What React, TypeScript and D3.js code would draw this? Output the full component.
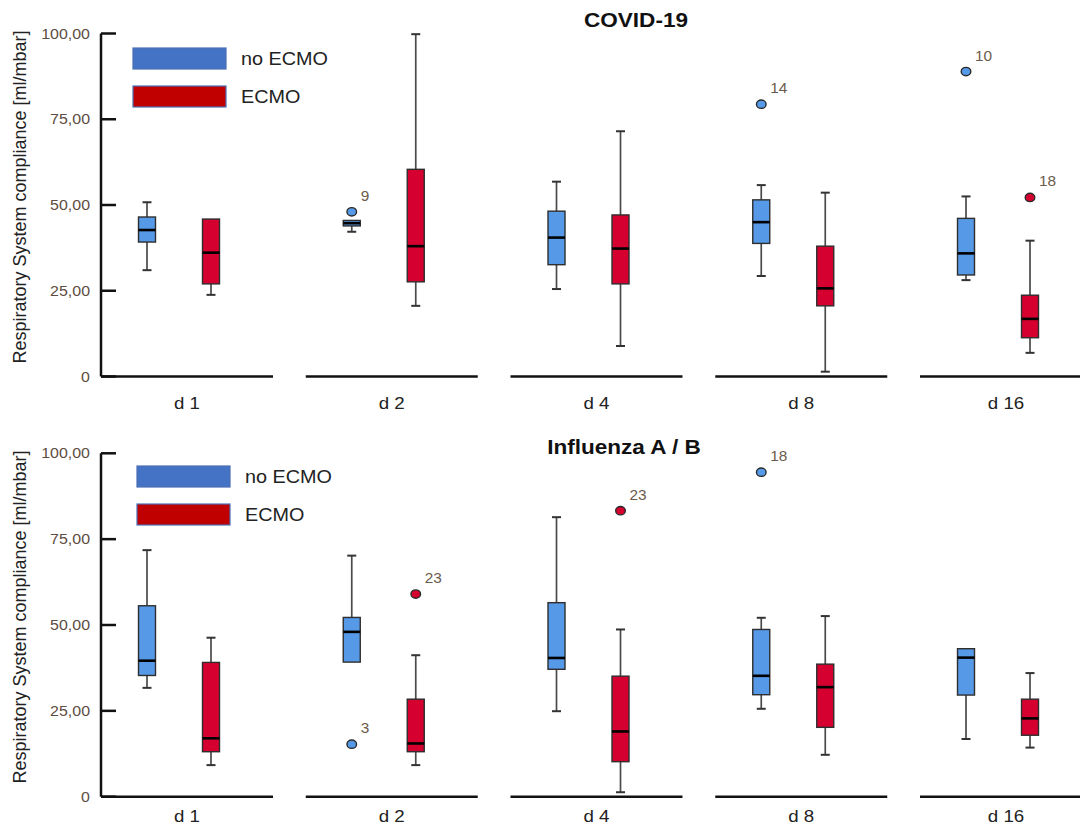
import * as d3 from 'd3';

// categories
const days = ['d 1', 'd 2', 'd 4', 'd 8', 'd 16'];
const groups = ['no ECMO', 'ECMO'];
const yTicks = [0, 25, 50, 75, 100];

// box stats per day: [whisker low, q1, median, q3, whisker high]
const covidNoEcmo = [
  [31.0, 39.2, 42.7, 46.5, 50.8],
  [42.2, 43.9, 44.7, 45.5, 45.5],
  [25.5, 32.6, 40.5, 48.2, 56.8],
  [29.3, 38.8, 45.0, 51.5, 55.8],
  [28.1, 29.6, 35.9, 46.1, 52.5],
];
const covidEcmo = [
  [23.8, 27.0, 36.1, 45.9, 45.9],
  [20.6, 27.6, 38.0, 60.4, 99.8],
  [8.9, 27.0, 37.3, 47.1, 71.5],
  [1.4, 20.6, 25.7, 38.0, 53.6],
  [6.9, 11.3, 16.8, 23.7, 39.6],
];
const fluNoEcmo = [
  [31.7, 35.3, 39.6, 55.6, 71.8],
  [39.2, 39.2, 48.0, 52.2, 70.2],
  [24.9, 37.1, 40.4, 56.5, 81.4],
  [25.6, 29.7, 35.2, 48.7, 52.1],
  [16.8, 29.6, 40.5, 43.1, 43.1],
];
const fluEcmo = [
  [9.2, 13.1, 17.0, 39.1, 46.3],
  [9.2, 13.1, 15.5, 28.4, 41.2],
  [1.3, 10.2, 19.0, 35.1, 48.7],
  [12.2, 20.2, 31.9, 38.6, 52.6],
  [14.3, 17.9, 22.8, 28.4, 36.0],
];

// outliers: case numbers shown next to the points
const covidOutliers = [
  { day: 'd 2', group: 'no ECMO', value: 48.0, id: '9' },
  { day: 'd 8', group: 'no ECMO', value: 79.4, id: '14' },
  { day: 'd 16', group: 'no ECMO', value: 88.9, id: '10' },
  { day: 'd 16', group: 'ECMO', value: 52.2, id: '18' },
];
const fluOutliers = [
  { day: 'd 2', group: 'no ECMO', value: 15.3, id: '3' },
  { day: 'd 2', group: 'ECMO', value: 59.0, id: '23' },
  { day: 'd 4', group: 'ECMO', value: 83.3, id: '23' },
  { day: 'd 8', group: 'no ECMO', value: 94.5, id: '18' },
];

const W = 1080;
const H = 829;
const FONT = '"Liberation Sans", Arial, sans-serif';
const boxFill = { 'no ECMO': '#5699e6', ECMO: '#d5002f' };
const legendFill = { 'no ECMO': '#4472c4', ECMO: '#c00000' };
const SX = 1.1; // the source image is a bit stretched sideways

const fmt = d3.formatLocale({ decimal: ',', thousands: '.', grouping: [3], currency: ['', ''] }).format('.2f');

const x = d3.scaleBand().domain(days).range([101, 1092]).paddingInner(0.16).paddingOuter(0);
const xSub = d3.scalePoint().domain(groups).range([46, 110]);

function T({ x, y, size, anchor = 'start', weight = 400, fill = '#111', children }) {
  return (
    <text transform={`translate(${x},${y}) scale(${SX},1)`} fontSize={size} fontFamily={FONT}
      fontWeight={weight} textAnchor={anchor} fill={fill}>{children}</text>
  );
}

function Panel({ title, titleX, titleY, top, bottom, labelGap, legendY, legendX, series, outliers }) {
  const y = d3.scaleLinear().domain([0, 100]).range([bottom, top]);
  const cx = (day, g) => x(day) + xSub(g);
  const bw = 17;
  return (
    <g>
      <T x={titleX} y={titleY} size={20.5} anchor="middle" weight={700}>{title}</T>

      {/* y axis */}
      <line x1={101} x2={101} y1={y(0)} y2={y(100)} stroke="#111" strokeWidth={2.5} />
      {yTicks.map((t) => (
        <g key={t}>
          <line x1={101} x2={116} y1={y(t)} y2={y(t)} stroke="#111" strokeWidth={2.5} />
          <T x={90} y={y(t) + 5} size={14.5} anchor="end" fill="#5d4c3f">{t === 0 ? '0' : fmt(t)}</T>
        </g>
      ))}
      <text transform={`translate(26,${(top + bottom) / 2 - 8}) rotate(-90)`} fontSize={18} fontFamily={FONT}
        textAnchor="middle" fill="#222">Respiratory System compliance [ml/mbar]</text>

      {/* x axis segments */}
      {days.map((d) => (
        <g key={d}>
          <line x1={x(d)} x2={x(d) + x.bandwidth()} y1={y(0)} y2={y(0)} stroke="#111" strokeWidth={2.5} />
          <T x={x(d) + x.bandwidth() / 2} y={y(0) + labelGap} size={17} anchor="middle" fill="#222">{d}</T>
        </g>
      ))}

      {/* boxes */}
      {groups.map((g, gi) => series[gi].map((s, di) => {
        const [lo, q1, med, q3, hi] = s;
        const c = cx(days[di], g);
        return (
          <g key={g + di}>
            {hi > q3 && <line x1={c} x2={c} y1={y(q3)} y2={y(hi)} stroke="#4a4a4a" strokeWidth={1.7} />}
            {hi > q3 && <line x1={c - 4.5} x2={c + 4.5} y1={y(hi)} y2={y(hi)} stroke="#333" strokeWidth={2} />}
            {lo < q1 && <line x1={c} x2={c} y1={y(q1)} y2={y(lo)} stroke="#4a4a4a" strokeWidth={1.7} />}
            {lo < q1 && <line x1={c - 4.5} x2={c + 4.5} y1={y(lo)} y2={y(lo)} stroke="#333" strokeWidth={2} />}
            <rect x={c - bw / 2} y={y(q3)} width={bw} height={y(q1) - y(q3)} fill={boxFill[g]}
              stroke="#2e2e2e" strokeWidth={1.4} />
            <line x1={c - bw / 2} x2={c + bw / 2} y1={y(med)} y2={y(med)} stroke="#000" strokeWidth={2.6} />
          </g>
        );
      }))}

      {/* outliers */}
      {outliers.map((o, i) => {
        const c = cx(o.day, o.group);
        return (
          <g key={i}>
            <ellipse cx={c} cy={y(o.value)} rx={4.8} ry={4.2} fill={boxFill[o.group]} stroke="#2a2a2a" strokeWidth={1.4} />
            <T x={c + 9} y={y(o.value) - 11} size={14} fill="#6b5b4c">{o.id}</T>
          </g>
        );
      })}

      {/* legend */}
      {groups.map((g, i) => (
        <g key={g}>
          <rect x={legendX} y={legendY + i * 38} width={93} height={21} fill={legendFill[g]}
            stroke="#4a6fb5" strokeWidth={1.2} />
          <T x={legendX + 108} y={legendY + i * 38 + 16.5} size={18} fill="#222">{g}</T>
        </g>
      ))}
    </g>
  );
}

export default function App() {
  return (
    <svg width={W} height={H} style={{ position: 'absolute', left: 0, top: 0, background: '#fff' }}>
      <rect width={W} height={H} fill="#fff" />
      <Panel title="COVID-19" titleX={636} titleY={27} top={33.5} bottom={376.5} labelGap={32} legendX={133} legendY={48}
        series={[covidNoEcmo, covidEcmo]} outliers={covidOutliers} />
      <Panel title="Influenza A / B" titleX={624} titleY={454} top={453.3} bottom={796.7} labelGap={25.5} legendX={137} legendY={466}
        series={[fluNoEcmo, fluEcmo]} outliers={fluOutliers} />
    </svg>
  );
}
